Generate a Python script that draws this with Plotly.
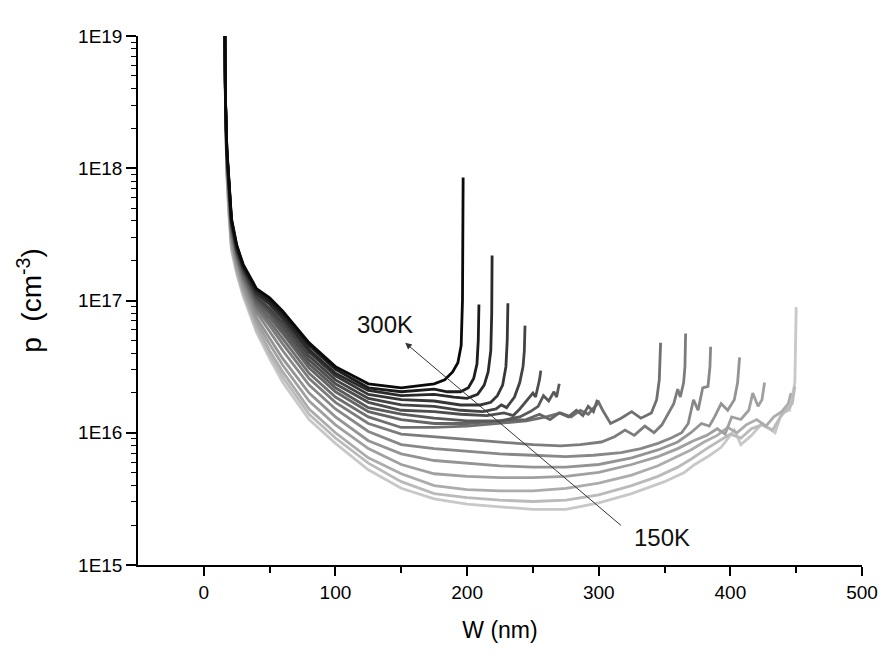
import plotly.graph_objects as go

# ---------------- data (log10 of p in cm^-3) ----------------
temperatures = [300, 290, 280, 270, 260, 250, 240, 230, 220, 210, 200, 190, 180, 170, 160, 150]

# common W grid for the steep head of every curve (nm)
W_head = [16, 16.5, 17.5, 19, 21, 25, 30, 40, 50, 60, 80, 100, 125, 150]

head_300K = [19.0, 18.5, 18.15, 17.9, 17.62, 17.42, 17.27, 17.09, 17.02, 16.92, 16.68, 16.50, 16.37, 16.34]
head_290K = [19.0, 18.50, 18.14, 17.89, 17.61, 17.41, 17.26, 17.08, 17.0, 16.9, 16.66, 16.48, 16.34, 16.31]
head_280K = [19.0, 18.49, 18.13, 17.88, 17.6, 17.4, 17.25, 17.06, 16.98, 16.88, 16.63, 16.45, 16.32, 16.28]
head_270K = [19.0, 18.49, 18.13, 17.87, 17.59, 17.39, 17.24, 17.05, 16.97, 16.86, 16.61, 16.43, 16.29, 16.25]
head_260K = [19.0, 18.48, 18.12, 17.86, 17.58, 17.38, 17.23, 17.03, 16.94, 16.83, 16.58, 16.40, 16.26, 16.21]
head_250K = [19.0, 18.48, 18.11, 17.85, 17.57, 17.37, 17.22, 17.02, 16.92, 16.8, 16.55, 16.37, 16.23, 16.17]
head_240K = [19.0, 18.47, 18.1, 17.83, 17.56, 17.36, 17.21, 17.0, 16.9, 16.77, 16.52, 16.34, 16.19, 16.14]
head_230K = [19.0, 18.47, 18.09, 17.82, 17.54, 17.35, 17.19, 16.98, 16.87, 16.75, 16.49, 16.31, 16.16, 16.10]
head_220K = [19.0, 18.46, 18.07, 17.8, 17.53, 17.33, 17.18, 16.96, 16.84, 16.71, 16.45, 16.27, 16.12, 16.04]
head_210K = [19.0, 18.45, 18.06, 17.79, 17.51, 17.32, 17.16, 16.94, 16.81, 16.67, 16.41, 16.23, 16.07, 15.99]
head_200K = [19.0, 18.44, 18.04, 17.76, 17.49, 17.3, 17.14, 16.91, 16.76, 16.62, 16.36, 16.18, 16.01, 15.91]
head_190K = [19.0, 18.43, 18.02, 17.74, 17.46, 17.28, 17.11, 16.87, 16.72, 16.56, 16.3, 16.12, 15.94, 15.84]
head_180K = [19.0, 18.42, 18.0, 17.71, 17.44, 17.25, 17.09, 16.84, 16.67, 16.51, 16.24, 16.06, 15.88, 15.76]
head_170K = [19.0, 18.41, 17.98, 17.69, 17.41, 17.23, 17.06, 16.81, 16.62, 16.46, 16.18, 16.0, 15.81, 15.69]
head_160K = [19.0, 18.41, 17.96, 17.67, 17.4, 17.22, 17.05, 16.78, 16.59, 16.42, 16.14, 15.96, 15.77, 15.63]
head_150K = [19.0, 18.4, 17.95, 17.65, 17.38, 17.2, 17.03, 16.76, 16.56, 16.38, 16.1, 15.92, 15.72, 15.58]

# tails (W >= 175 nm) with the end spikes
W_tail_300K = [175, 183, 189, 193, 195.5, 196.5, 197]
p_tail_300K = [16.37, 16.40, 16.46, 16.53, 16.66, 17.0, 17.93]
W_tail_290K = [175, 185, 195, 201, 205, 207.5, 208.5, 209]
p_tail_290K = [16.33, 16.31, 16.31, 16.34, 16.41, 16.52, 16.7, 16.97]
W_tail_280K = [175, 190, 200, 208, 213, 216, 218, 218.7, 219]
p_tail_280K = [16.29, 16.27, 16.26, 16.29, 16.36, 16.46, 16.62, 16.9, 17.34]
W_tail_270K = [175, 195, 210, 218, 223, 227, 229.5, 230.5, 231]
p_tail_270K = [16.24, 16.21, 16.21, 16.23, 16.28, 16.36, 16.5, 16.7, 16.98]
W_tail_260K = [175, 195, 212, 222, 226, 230, 236, 240, 242.5, 243.5, 244]
p_tail_260K = [16.2, 16.17, 16.16, 16.18, 16.21, 16.19, 16.27, 16.38, 16.5, 16.62, 16.81]
W_tail_250K = [175, 195, 215, 228, 235, 240, 245, 250, 252, 255, 256]
p_tail_250K = [16.16, 16.14, 16.13, 16.15, 16.13, 16.18, 16.24, 16.3, 16.27, 16.4, 16.47]
W_tail_240K = [175, 200, 225, 240, 248, 254, 258, 262, 266, 268, 270]
p_tail_240K = [16.11, 16.09, 16.09, 16.12, 16.16, 16.2, 16.28, 16.24, 16.31, 16.27, 16.37]
W_tail_230K = [175, 200, 225, 245, 255, 263, 270, 277, 283, 288, 292, 296, 299]
p_tail_230K = [16.07, 16.07, 16.09, 16.1, 16.14, 16.1, 16.15, 16.12, 16.17, 16.13, 16.2, 16.16, 16.25]
W_tail_220K = [175, 200, 225, 245, 260, 271, 279, 286, 292, 297, 300, 303, 309, 317, 325, 332, 340, 344, 346, 347]
p_tail_220K = [16.04, 16.05, 16.07, 16.09, 16.12, 16.15, 16.12, 16.17, 16.14, 16.2, 16.23, 16.17, 16.07, 16.11, 16.16, 16.11, 16.15, 16.25, 16.4, 16.68]
W_tail_210K = [175, 200, 225, 250, 271, 286, 302, 312, 320, 327, 335, 342, 348, 353, 357, 360, 362, 364.5, 365.5, 366]
p_tail_210K = [15.97, 15.95, 15.93, 15.91, 15.9, 15.91, 15.93, 15.97, 16.02, 15.98, 16.05, 16.0, 16.06, 16.15, 16.22, 16.33, 16.27, 16.38, 16.5, 16.75]
W_tail_200K = [175, 200, 225, 250, 275, 296, 317, 332, 345, 355, 363, 368, 372, 375.5, 379, 383, 384.5, 385]
p_tail_200K = [15.88, 15.86, 15.84, 15.83, 15.82, 15.83, 15.85, 15.88, 15.92, 15.96, 16.0, 16.07, 16.25, 16.17, 16.34, 16.35, 16.5, 16.65]
W_tail_190K = [175, 200, 225, 250, 275, 300, 325, 345, 360, 370, 378, 384, 388, 393, 398, 403, 405.5, 407]
p_tail_190K = [15.79, 15.77, 15.75, 15.74, 15.74, 15.76, 15.81, 15.87, 15.93, 16.0, 16.07, 16.05, 16.12, 16.22, 16.17, 16.25, 16.38, 16.57]
W_tail_180K = [175, 200, 225, 250, 275, 300, 325, 345, 360, 372, 382, 390, 396, 401, 408, 414, 417, 421, 424, 426]
p_tail_180K = [15.69, 15.67, 15.66, 15.66, 15.67, 15.7, 15.76, 15.82, 15.88, 15.94, 15.98, 16.03, 15.99, 16.12, 16.1, 16.17, 16.3, 16.2, 16.25, 16.38]
W_tail_170K = [175, 200, 225, 250, 275, 300, 325, 345, 360, 370, 380, 390, 398, 405, 412, 420, 427, 433, 439, 444, 446]
p_tail_170K = [15.6, 15.57, 15.56, 15.56, 15.58, 15.62, 15.68, 15.75, 15.82, 15.87, 15.93, 15.98, 16.04, 16.0, 16.06, 16.1, 16.05, 16.12, 16.16, 16.22, 16.3]
W_tail_160K = [175, 200, 225, 250, 275, 300, 325, 345, 360, 370, 382, 392, 400, 408, 416, 424, 432, 438, 443, 447, 449]
p_tail_160K = [15.54, 15.51, 15.49, 15.48, 15.49, 15.53, 15.6, 15.67, 15.74, 15.8, 15.88, 15.94, 15.99, 15.96, 16.03, 16.06, 16.02, 16.12, 16.18, 16.22, 16.35]
W_tail_150K = [175, 200, 225, 250, 275, 300, 325, 350, 365, 373, 383, 393, 403, 408, 416, 424, 434, 439, 445, 449, 450]
p_tail_150K = [15.5, 15.46, 15.44, 15.42, 15.42, 15.47, 15.54, 15.63, 15.7, 15.76, 15.82, 15.89, 16.02, 15.91, 15.98, 16.07, 16.0, 16.15, 16.17, 16.38, 16.95]

line_grays = [10, 28, 42, 55, 67, 78, 90, 101, 112, 124, 136, 148, 160, 172, 186, 200]

y_tick_labels = ["1E15", "1E16", "1E17", "1E18", "1E19"]
x_tick_values = [0, 100, 200, 300, 400, 500]

# ---------------- figure ----------------
heads = [head_300K, head_290K, head_280K, head_270K, head_260K, head_250K, head_240K, head_230K,
         head_220K, head_210K, head_200K, head_190K, head_180K, head_170K, head_160K, head_150K]
W_tails = [W_tail_300K, W_tail_290K, W_tail_280K, W_tail_270K, W_tail_260K, W_tail_250K, W_tail_240K,
           W_tail_230K, W_tail_220K, W_tail_210K, W_tail_200K, W_tail_190K, W_tail_180K, W_tail_170K,
           W_tail_160K, W_tail_150K]
p_tails = [p_tail_300K, p_tail_290K, p_tail_280K, p_tail_270K, p_tail_260K, p_tail_250K, p_tail_240K,
           p_tail_230K, p_tail_220K, p_tail_210K, p_tail_200K, p_tail_190K, p_tail_180K, p_tail_170K,
           p_tail_160K, p_tail_150K]

fig = go.Figure()
order = list(range(len(temperatures)))[::-1]  # lightest first, black on top
for k in order:
    xs = W_head + W_tails[k]
    ys = [10 ** v for v in heads[k] + p_tails[k]]
    g = line_grays[k]
    fig.add_trace(go.Scatter(
        x=xs, y=ys, mode="lines", name=f"{temperatures[k]}K",
        line=dict(color=f"rgb({g},{g},{g})", width=2.8),
        showlegend=False,
    ))

font_family = "Liberation Sans, Arial, sans-serif"

fig.update_layout(
    width=874, height=654,
    margin=dict(l=130, r=20, t=28, b=97),
    paper_bgcolor="white", plot_bgcolor="white",
    font=dict(family=font_family, color="black"),
    showlegend=False,
)

fig.update_xaxes(
    range=[-50, 500],
    automargin=False,
    tickvals=x_tick_values,
    ticks="outside", ticklen=9, tickwidth=1.5, tickcolor="black",
    minor=dict(tickvals=[50, 150, 250, 350, 450], ticks="outside", ticklen=6, tickwidth=1.5, tickcolor="black"),
    showline=True, linecolor="black", linewidth=1.5,
    showgrid=False, zeroline=False,
    tickfont=dict(size=19, family=font_family),
    title=dict(text="W (nm)", font=dict(size=23, family=font_family), standoff=20),
)

minor_y = [m * 10 ** e for e in range(15, 19) for m in range(2, 10)]
fig.update_yaxes(
    type="log",
    range=[15, 19],
    automargin=False,
    tickvals=[1e15, 1e16, 1e17, 1e18, 1e19],
    ticktext=y_tick_labels,
    ticks="outside", ticklen=10, tickwidth=1.5, tickcolor="black",
    minor=dict(tickvals=minor_y, ticks="outside", ticklen=5, tickwidth=1.2, tickcolor="black"),
    showline=True, linecolor="black", linewidth=1.5,
    showgrid=False, zeroline=False,
    tickfont=dict(size=19, family=font_family),
    title=dict(text="p  (cm<sup>-3</sup>)", font=dict(size=28, family=font_family), standoff=28),
)

# arrow from 150K to 300K
fig.add_annotation(
    x=153, y=16.68, ax=318, ay=15.29,
    xref="x", yref="y", axref="x", ayref="y",
    text="", showarrow=True,
    arrowhead=2, arrowsize=1.3, arrowwidth=1, arrowcolor="#333333",
)
fig.add_annotation(x=138, y=16.82, xref="x", yref="y", text="300K", showarrow=False,
                   font=dict(size=24, family=font_family, color="#111111"))
fig.add_annotation(x=348, y=15.21, xref="x", yref="y", text="150K", showarrow=False,
                   font=dict(size=24, family=font_family, color="#111111"))

fig.write_html("out.html")
